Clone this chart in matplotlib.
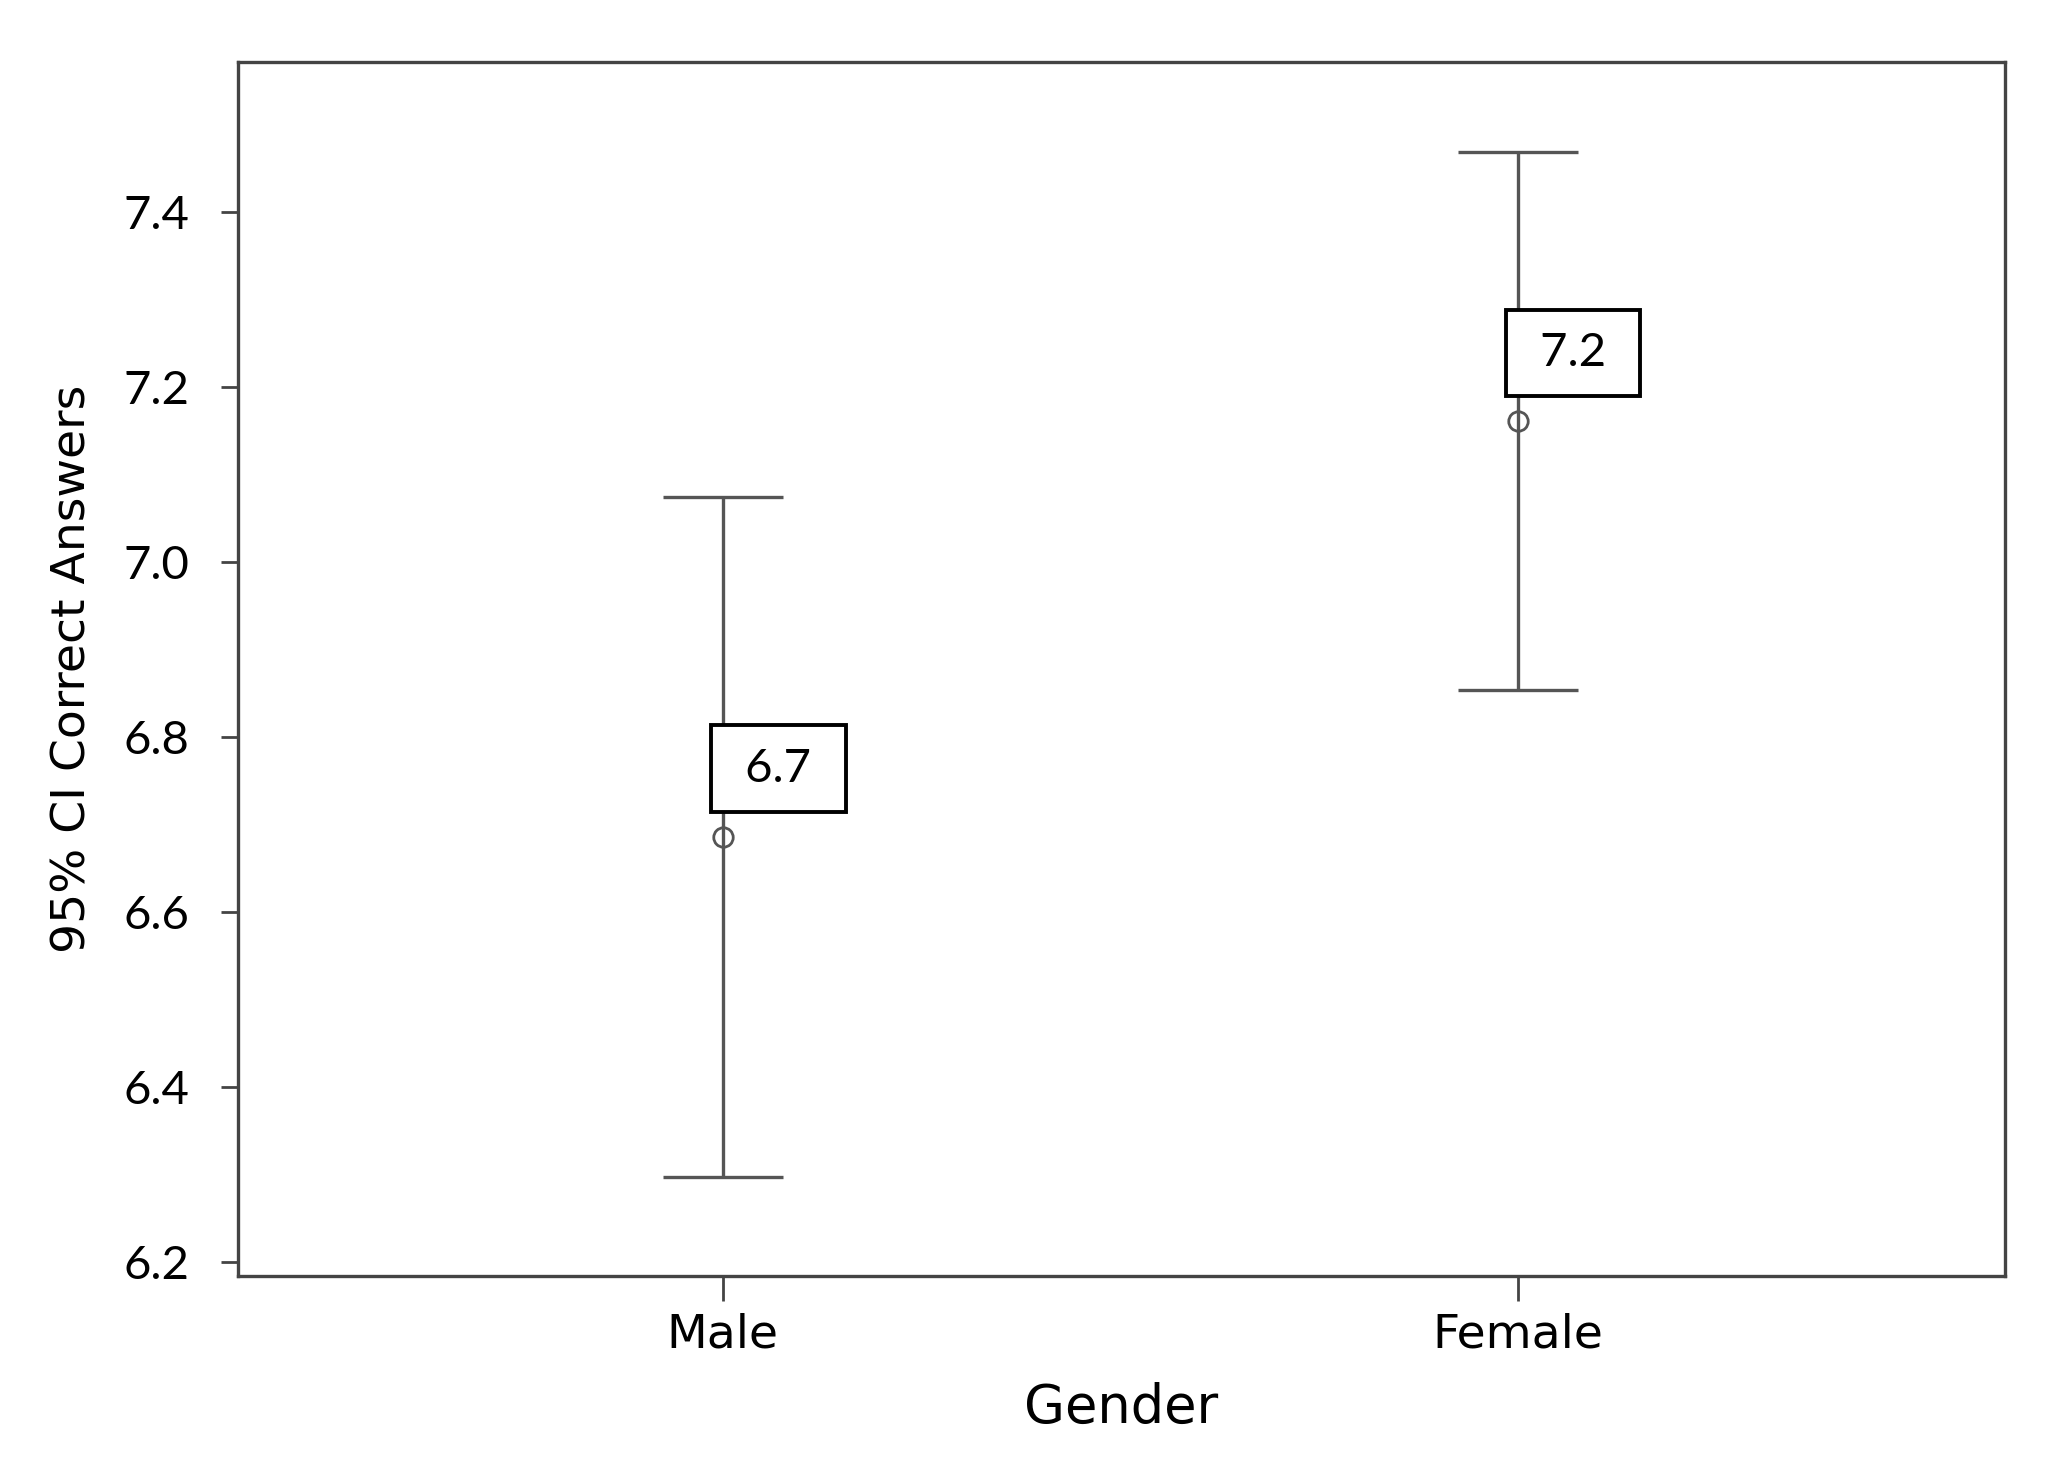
import matplotlib.pyplot as plt

# 95% CI of correct answers by gender
genders = ['Male', 'Female']
means = [6.686, 7.161]
ci_low = [6.297, 6.854]
ci_high = [7.074, 7.469]
mean_labels = ['6.7', '7.2']
yticks = [6.2, 6.4, 6.6, 6.8, 7.0, 7.2, 7.4]

plt.rcParams['font.family'] = ['DejaVu Sans']

fig = plt.figure(figsize=(20.5, 14.69), dpi=100)
ax = fig.add_axes([0.116, 0.1314, 0.862, 0.8266])

xs = list(range(len(genders)))
err_lo = [m - lo for m, lo in zip(means, ci_low)]
err_hi = [hi - m for m, hi in zip(means, ci_high)]

ax.errorbar(xs, means, yerr=[err_lo, err_hi], fmt='none', ecolor='#555555',
            elinewidth=2.4, capsize=43, capthick=2.4)
ax.plot(xs, means, 'o', markersize=14, markerfacecolor='none',
        markeredgecolor='#555555', markeredgewidth=2.0)

for x, m, lab in zip(xs, means, mean_labels):
    ax.annotate(' ' + lab + ' ', xy=(x, m), xytext=(40, 49), textcoords='offset points',
                ha='center', va='center', fontsize=34, family='Lato',
                bbox=dict(boxstyle='square,pad=0.47', facecolor='white',
                          edgecolor='black', linewidth=2.8))

ax.set_xlim(-0.61, 1.613)
ax.set_ylim(6.1836, 7.572)
ax.set_xticks(xs)
ax.set_xticklabels(genders, fontsize=34)
ax.set_yticks(yticks)
ax.set_yticklabels([f'{v:.1f}' for v in yticks], fontsize=34, family='Lato')
ax.tick_params(axis='y', length=12, width=2, color='#444444', pad=23)
ax.tick_params(axis='x', length=18, width=2, color='#444444', pad=8)

for s in ax.spines.values():
    s.set_color('#444444')
    s.set_linewidth(2.4)

ax.set_xlabel('Gender', fontsize=38, labelpad=18)
ax.set_ylabel('95% CI Correct Answers', fontsize=34, labelpad=20)

fig.savefig('out.png', dpi=100)
